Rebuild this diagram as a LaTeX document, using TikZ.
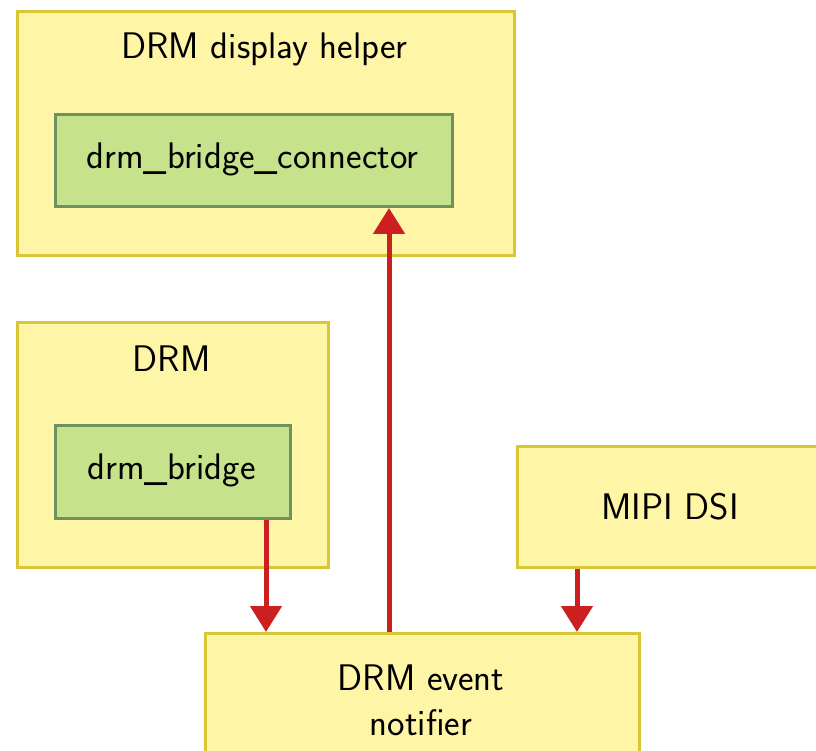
\documentclass[tikz,border=0pt]{standalone}
\usetikzlibrary{arrows.meta}
\definecolor{yfill}{HTML}{FFF5A6}
\definecolor{ybord}{HTML}{D8C634}
\definecolor{gfill}{HTML}{C6E38C}
\definecolor{gbord}{HTML}{6E9160}
\definecolor{ared}{HTML}{CC2020}
\tikzset{
  container/.style={draw=ybord, fill=yfill, line width=3pt, rectangle, inner sep=0pt, anchor=north west},
  component/.style={draw=gbord, fill=gfill, line width=3pt, rectangle, inner sep=0pt, anchor=north west},
  caption/.style={font=\sffamily\fontsize{37}{45}\selectfont, inner sep=0pt, align=center},
  flow/.style={draw=ared, line width=5pt, -{Triangle[width=31pt,length=26pt]}}
}
\begin{document}
\begin{tikzpicture}[x=1pt,y=-1pt]
\useasboundingbox (0,0) rectangle (816,751);

% DRM display helper with its bridge connector
\node[container, minimum width=497pt, minimum height=244pt] (helper) at (16,10) {};
\node[caption] (helpertitle) at (264.5,49) {DRM display helper};
\node[component, minimum width=397pt, minimum height=92pt] (conn) at (54,113) {};
\node[caption] (conntext) at (252.5,159) {drm\_bridge\_connector};

% DRM core with drm_bridge
\node[container, minimum width=311pt, minimum height=245pt] (drm) at (16,321) {};
\node[caption] (drmtitle) at (171.5,359) {DRM};
\node[component, minimum width=235pt, minimum height=93pt] (bridge) at (54,424) {};
\node[caption] (bridgetext) at (171.5,470) {drm\_bridge};

% MIPI DSI (runs past the right edge)
\node[container, minimum width=320pt, minimum height=121pt] (dsi) at (516,445) {};
\node[caption] (dsitext) at (670,507) {MIPI DSI};

% DRM event notifier (runs past the bottom edge)
\node[container, minimum width=434pt, minimum height=140pt] (notifier) at (204,632) {};
\node[caption] (notifiertext) at (421,700) {DRM event\\notifier};

% connectors
\coordinate (xa) at (266,0);
\coordinate (xb) at (389,0);
\coordinate (xc) at (577,0);
\draw[flow] (bridge.south -| xa) -- (notifier.north -| xa);
\draw[flow] (notifier.north -| xb) -- (conn.south -| xb);
\draw[flow] (dsi.south -| xc) -- (notifier.north -| xc);
\end{tikzpicture}
\end{document}
